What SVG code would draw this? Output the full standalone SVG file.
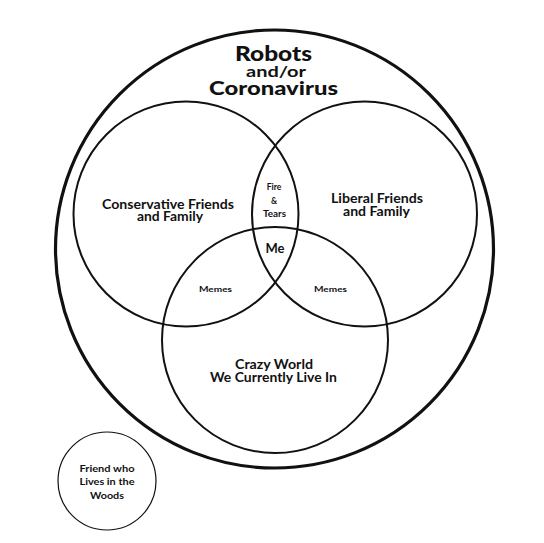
<svg xmlns="http://www.w3.org/2000/svg" width="544" height="543" viewBox="0 0 544 543">
<style>
text{font-family:Lato,"Open Sans","DejaVu Sans",sans-serif;font-weight:900;fill:#111;text-anchor:middle}
.c{fill:none;stroke:#111;stroke-width:2}
.outer{fill:none;stroke:#111;stroke-width:3.2}
.thin{fill:none;stroke:#111;stroke-width:1.2}
.lbl{font-size:12.5px;font-weight:700}
.sm{font-size:8.5px;font-weight:700}
</style>
<rect width="544" height="543" fill="#fff"/>
<g id="outer">
<circle class="outer" cx="274.5" cy="249" r="219"/>
<text x="273.5" y="61" style="font-size:21px" textLength="77" lengthAdjust="spacingAndGlyphs">Robots</text>
<text x="276" y="77" style="font-size:14.5px;font-weight:700" textLength="60" lengthAdjust="spacingAndGlyphs">and/or</text>
<text x="273.5" y="95" style="font-size:18.5px" textLength="129" lengthAdjust="spacingAndGlyphs">Coronavirus</text>
</g>
<g id="conservative">
<circle class="c" cx="186" cy="214" r="112.5"/>
<text class="lbl" x="168" y="209" textLength="132" lengthAdjust="spacingAndGlyphs">Conservative Friends</text>
<text class="lbl" x="170" y="221" textLength="66" lengthAdjust="spacingAndGlyphs">and Family</text>
</g>
<g id="liberal">
<circle class="c" cx="364.5" cy="214" r="112.5"/>
<text class="lbl" x="377" y="203" textLength="92" lengthAdjust="spacingAndGlyphs">Liberal Friends</text>
<text class="lbl" x="376.5" y="216" textLength="67" lengthAdjust="spacingAndGlyphs">and Family</text>
</g>
<g id="crazy">
<circle class="c" cx="275" cy="340" r="113"/>
<text class="lbl" x="274" y="369" textLength="78" lengthAdjust="spacingAndGlyphs">Crazy World</text>
<text class="lbl" x="273.5" y="382" textLength="127" lengthAdjust="spacingAndGlyphs">We Currently Live In</text>
</g>
<g id="fire-tears">
<text class="sm" x="274" y="190">Fire</text>
<text class="sm" x="274" y="204">&amp;</text>
<text class="sm" x="274.5" y="217" textLength="23" lengthAdjust="spacingAndGlyphs">Tears</text>
</g>
<g id="me"><text x="275" y="253" style="font-size:13px;font-weight:700">Me</text></g>
<g id="memes-left"><text class="sm" x="215.5" y="292" style="font-size:8px" textLength="33" lengthAdjust="spacingAndGlyphs">Memes</text></g>
<g id="memes-right"><text class="sm" x="330.5" y="292" style="font-size:8px" textLength="33" lengthAdjust="spacingAndGlyphs">Memes</text></g>
<g id="woods">
<circle class="thin" cx="107" cy="481" r="49"/>
<text class="sm" x="107" y="472" textLength="55" lengthAdjust="spacingAndGlyphs">Friend who</text>
<text class="sm" x="107" y="485" textLength="55" lengthAdjust="spacingAndGlyphs">Lives in the</text>
<text class="sm" x="107" y="499" textLength="34" lengthAdjust="spacingAndGlyphs">Woods</text>
</g>
<g id="connectors"/>
</svg>
